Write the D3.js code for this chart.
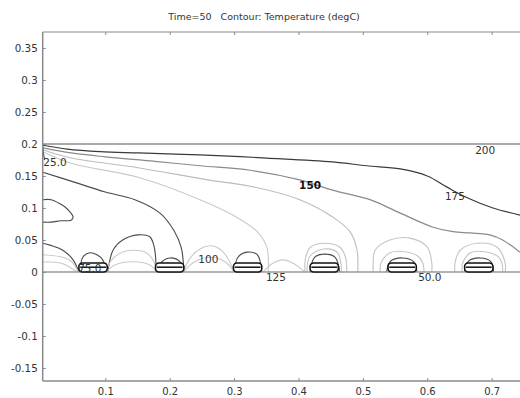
<!DOCTYPE html>
<html><head><meta charset="utf-8">
<script src="https://cdn.jsdelivr.net/npm/d3@7"></script>
<style>html,body{margin:0;padding:0;background:#fff;}svg{display:block;font-family:"DejaVu Sans",sans-serif;}</style>
</head><body>
<svg id="chart" width="520" height="398"></svg>
<script>
// ---------- data ----------
const titleText = "Time=50\u00a0\u00a0\u00a0Contour: Temperature (degC)";
const xTicks = [0.1, 0.2, 0.3, 0.4, 0.5, 0.6, 0.7];
const yTicks = [-0.15, -0.1, -0.05, 0, 0.05, 0.1, 0.15, 0.2, 0.25, 0.3, 0.35];
const xDomain = [0.0028, 0.744];
const yDomain = [-0.1703, 0.375];
const domainTop = 0.2;
const heaterCenters = [0.081, 0.2, 0.321, 0.44, 0.561, 0.68];

// contour polylines (x, y in model units)
const c175Top = [[0.003,0.198],[0.041,0.192],[0.092,0.188],[0.151,0.186],[0.247,0.183],[0.351,0.178],[0.453,0.172],[0.506,0.166],[0.558,0.161],[0.600,0.150],[0.630,0.133],[0.662,0.116],[0.702,0.100],[0.744,0.089]];
const c150Top = [[0.003,0.194],[0.047,0.186],[0.1,0.18],[0.177,0.173],[0.247,0.166],[0.325,0.159],[0.402,0.144],[0.453,0.128],[0.511,0.113],[0.558,0.092],[0.609,0.070],[0.64,0.063],[0.667,0.061],[0.697,0.058],[0.717,0.05],[0.744,0.031]];
const c125Fan = [[0.003,0.191],[0.047,0.178],[0.151,0.163],[0.259,0.144],[0.325,0.134],[0.402,0.113],[0.453,0.086],[0.48,0.063],[0.491,0.034],[0.492,0]];
const c100Fan = [[0.003,0.188],[0.047,0.17],[0.151,0.148],[0.247,0.113],[0.298,0.089],[0.336,0.063],[0.351,0.038],[0.353,0]];
const c50Fan = [[0.003,0.156],[0.047,0.142],[0.1,0.125],[0.146,0.113],[0.185,0.092],[0.207,0.064],[0.218,0.038],[0.222,0]];
const c50Blob = [[0.003,0.113],[0.016,0.113],[0.027,0.108],[0.037,0.102],[0.045,0.094],[0.05,0.086],[0.047,0.081],[0.031,0.08],[0.016,0.078],[0.003,0.078]];
const c50Arch = [[0.104,0],[0.112,0.034],[0.127,0.05],[0.151,0.058],[0.169,0.055],[0.176,0.039],[0.179,0]];
const c50Left = [[0.003,0.045],[0.014,0.042],[0.034,0.034],[0.05,0.019],[0.059,0]];
const c25Edge = [[0.003,0.196],[0.004,0.185],[0.006,0.175]];
const cDarkRings = [
  [[0.061,0],[0.065,0.023],[0.076,0.03],[0.087,0.027],[0.096,0.019],[0.101,0]],
  [[0.18,0],[0.188,0.016],[0.201,0.022],[0.216,0.016],[0.221,0]],
  [[0.3,0],[0.306,0.023],[0.32,0.031],[0.336,0.027],[0.343,0]],
  [[0.418,0],[0.425,0.023],[0.441,0.028],[0.457,0.023],[0.464,0]],
  [[0.537,0],[0.542,0.016],[0.561,0.022],[0.579,0.016],[0.584,0]],
  [[0.658,0],[0.663,0.016],[0.682,0.022],[0.699,0.016],[0.703,0]]
];
const cLightRings = [
  [[0.413,0],[0.418,0.025],[0.44,0.036],[0.461,0.03],[0.467,0]],
  [[0.41,0],[0.411,0.022],[0.419,0.039],[0.441,0.045],[0.464,0.039],[0.473,0.023],[0.475,0]],
  [[0.527,0],[0.528,0.014],[0.542,0.03],[0.562,0.032],[0.585,0.025],[0.593,0.014],[0.595,0]],
  [[0.516,0],[0.516,0.014],[0.519,0.034],[0.542,0.05],[0.573,0.053],[0.6,0.039],[0.607,0.014],[0.607,0]],
  [[0.654,0],[0.655,0.014],[0.667,0.03],[0.686,0.032],[0.71,0.024],[0.716,0.014],[0.717,0]],
  [[0.643,0],[0.643,0.014],[0.651,0.034],[0.677,0.045],[0.708,0.039],[0.721,0.014],[0.721,0]]
];
const cLightArches = [
  [[0.003,0.027],[0.034,0.023],[0.048,0.016],[0.058,0]],
  [[0.003,0.016],[0.034,0.013],[0.056,0]],
  [[0.101,0],[0.11,0.019],[0.126,0.031],[0.143,0.034],[0.162,0.031],[0.174,0.019],[0.18,0]],
  [[0.101,0],[0.115,0.011],[0.143,0.016],[0.169,0.011],[0.18,0]],
  [[0.221,0],[0.232,0.022],[0.247,0.036],[0.263,0.041],[0.278,0.036],[0.29,0.022],[0.3,0]],
  [[0.221,0],[0.239,0.016],[0.263,0.023],[0.286,0.016],[0.3,0]],
  [[0.345,0],[0.359,0.013],[0.376,0.019],[0.393,0.013],[0.41,0]]
];
const labelTexts = ["25.0", "75.0", "100", "125", "150", "175", "200", "50.0"];
const labelX = [0.022, 0.076, 0.26, 0.365, 0.418, 0.643, 0.69, 0.604];
const labelY = [0.172, 0.006, 0.020, -0.008, 0.136, 0.119, 0.190, -0.008];

// ---------- drawing ----------
const svg = d3.select("#chart");
const x = d3.scaleLinear().domain(xDomain).range([42.7, 520]);
const y = d3.scaleLinear().domain(yDomain).range([381, 32]);

const groups = [
  {lines: [c175Top], color: "#3a3a3a", w: 1.2},
  {lines: [c150Top], color: "#8a8a8a", w: 1.2},
  {lines: [c125Fan], color: "#bcbcbc", w: 1.1},
  {lines: [c100Fan], color: "#c9c9c9", w: 1.1},
  {lines: [c50Fan, c50Blob, c50Arch, c50Left, c25Edge], color: "#4a4a4a", w: 1.1},
  {lines: cDarkRings, color: "#4a4a4a", w: 1.1},
  {lines: cLightRings, color: "#c4c4c4", w: 1.1},
  {lines: cLightArches, color: "#cacaca", w: 1.1}
];

svg.append("rect").attr("width", 520).attr("height", 398).attr("fill", "#fff");

// title
svg.append("text").attr("x", 264).attr("y", 20).attr("text-anchor", "middle")
  .attr("font-size", 9.5).attr("fill", "#333").style("white-space", "pre").text(titleText);

const line = d3.line().x(d => x(d[0])).y(d => y(d[1])).curve(d3.curveCatmullRom.alpha(0.5));

// domain boundary lines
svg.append("line").attr("x1", x(xDomain[0])).attr("x2", x(xDomain[1]))
  .attr("y1", y(domainTop)).attr("y2", y(domainTop)).attr("stroke", "#555").attr("stroke-width", 1.2);

const plot = svg.append("g");
groups.forEach(g => {
  plot.selectAll(null).data(g.lines).enter().append("path")
    .attr("d", line).attr("fill", "none").attr("stroke", g.color).attr("stroke-width", g.w);
});

svg.append("line").attr("x1", x(xDomain[0])).attr("x2", x(xDomain[1]))
  .attr("y1", y(0)).attr("y2", y(0)).attr("stroke", "#999").attr("stroke-width", 1.6);

// heaters
const hw = 0.022, hh = 0.014, hi = 0.0075;
const heat = svg.append("g");
heaterCenters.forEach(c => {
  heat.append("rect").attr("x", x(c - hw)).attr("y", y(hh))
    .attr("width", x(c + hw) - x(c - hw)).attr("height", y(0) - y(hh))
    .attr("rx", 3.5).attr("fill", "#fff").attr("stroke", "#111").attr("stroke-width", 1.6);
  heat.append("line").attr("x1", x(c - hw + 0.002)).attr("x2", x(c + hw - 0.002))
    .attr("y1", y(hi)).attr("y2", y(hi)).attr("stroke", "#111").attr("stroke-width", 1.5);
});

// contour labels
svg.append("g").selectAll("text").data(labelTexts).enter().append("text")
  .attr("x", (d, i) => x(labelX[i])).attr("y", (d, i) => y(labelY[i]))
  .attr("dy", "0.35em").attr("text-anchor", "middle").attr("font-size", 10.5)
  .attr("fill", (d) => d === "150" ? "#111" : "#333")
  .attr("font-weight", (d) => d === "150" ? "bold" : "normal")
  .text(d => d);

// axes frame
const axCol = "#8a8a8a";
svg.append("line").attr("x1", 42.7).attr("x2", 42.7).attr("y1", 32).attr("y2", 381)
  .attr("stroke", axCol).attr("stroke-width", 1.5);
svg.append("line").attr("x1", 42.7).attr("x2", 520).attr("y1", 32).attr("y2", 32)
  .attr("stroke", axCol).attr("stroke-width", 1.2);
svg.append("line").attr("x1", 42.7).attr("x2", 520).attr("y1", 381).attr("y2", 381)
  .attr("stroke", axCol).attr("stroke-width", 1.5);

const fmt = v => (Math.abs(v) < 1e-9 ? "0" : String(+v.toFixed(2)));

// left axis
const yAxis = d3.axisLeft(y).tickValues(yTicks).tickSize(-3).tickPadding(5).tickFormat(fmt);
const ya = svg.append("g").attr("transform", "translate(42.7,0)").call(yAxis);
ya.select(".domain").remove();
ya.selectAll("line").attr("stroke", axCol);
ya.selectAll("text").attr("font-size", 10.3).attr("fill", "#333").attr("font-family", "DejaVu Sans");

// bottom axis
const xAxis = d3.axisBottom(x).tickValues(xTicks).tickSize(-3).tickPadding(7).tickFormat(fmt);
const xa = svg.append("g").attr("transform", "translate(0,381)").call(xAxis);
xa.select(".domain").remove();
xa.selectAll("line").attr("stroke", axCol);
xa.selectAll("text").attr("font-size", 10).attr("fill", "#333").attr("font-family", "DejaVu Sans");

// top ticks
const xt = svg.append("g").attr("transform", "translate(0,32)")
  .call(d3.axisTop(x).tickValues(xTicks).tickSize(-3).tickFormat(""));
xt.select(".domain").remove();
xt.selectAll("line").attr("stroke", axCol);
</script>
</body></html>
